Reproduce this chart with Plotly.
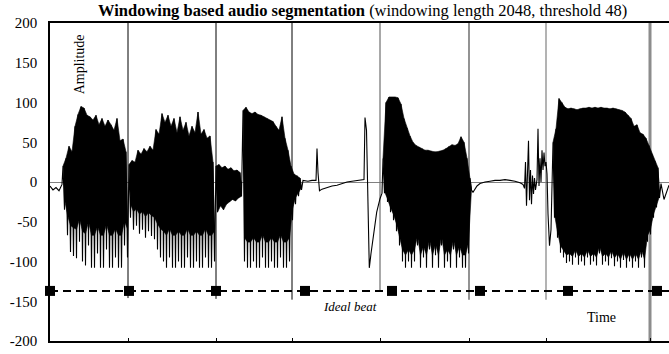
import plotly.graph_objects as go

# ---------------- data (time in arbitrary units, amplitude) ----------------
STEP = 1.5  # sample spacing inside the dense bursts (peak / trough alternate)

quiet_start_t = [0, 3, 6, 9, 12]
quiet_start_amp = [-5, -10, -7, -11, -3]

seg1_start = 13
seg1_amp = [20, -35, 30, -67, 45, -88, 38, -93, 70, -96, 85, -75, 95, -100, 93, -105,
            84, -80, 82, -108, 78, -108, 84, -90, 72, -108, 80, -108, 70, -85, 78, -108,
            72, -108, 65, -95, 80, -108, 52, -108, 54, -80, 38, -95]

seg2_start = 79
seg2_amp = [22, -45, 27, -60, 25, -55, 40, -65, 35, -60, 42, -70, 38, -62, 45, -68,
            40, -72, 66, -85, 60, -95, 86, -100, 75, -108, 84, -95, 70, -108, 80, -108,
            62, -100, 82, -108, 65, -108, 75, -95, 58, -108, 70, -108, 62, -100, 88, -108,
            60, -108, 66, -95, 55, -108, 58, -108, 25, -100]

seg_mid_start = 166
seg_mid_amp = [20, -38, 22, -30, 18, -35, 20, -28, 16, -25, 18, -22, 14, -24, 15, -20, 12, -18]

seg3_start = 193
seg3_amp = [90, -100, 94, -108, 88, -108, 86, -100, 88, -108, 85, -108, 84, -95, 82, -108,
            80, -108, 78, -100, 76, -108, 70, -108, 65, -95, 82, -108, 55, -108, 40, -100,
            20, -48, 10, -28, 8, -18, 5, -10]

quiet_mid_t = [253, 258, 262, 266, 267, 268, 269.5, 272, 277, 282, 287, 292, 297, 302, 307,
               312, 314, 315, 316.5, 317.5, 319.3, 321, 323.3, 325, 326.7, 330, 332]
quiet_mid_amp = [2, 1, 2, 2, 42, 12, -11, -9, -7, -5, -4, -2, 0, 1, 2,
                 3, 3, 81, 65, 3, -108, -90, -67, -52, -38, -21, -14]

seg5_start = 333
seg5_amp = [30, -14, 100, -25, 107, -38, 107, -48, 107, -62, 106, -80, 98, -100, 80, -108,
            68, -100, 58, -108, 50, -100, 46, -80, 44, -108, 42, -95, 40, -108, 40, -85,
            39, -108, 38, -92, 38, -108, 39, -80, 40, -108, 42, -100, 45, -108, 47, -85,
            46, -108, 48, -95, 57, -108, 50, -108, 30, -90, 5, -10]

quiet_end_t = [423, 424.5, 427, 430, 435, 440, 445, 450, 455, 460, 465, 470, 473,
               474.5, 475.5, 476.5, 477.5, 478.5, 479.5, 480.5, 481.5, 482.5, 483.5, 484.5,
               485.5, 487, 488, 489, 490, 491, 492, 493, 494, 495, 496, 497, 498, 499.5, 501]
quiet_end_amp = [-13, -10, -5, -2, 0, 1, 2, 2, 3, 2, 1, -1, -3,
                 -8, 25, -30, 10, 52, -23, 15, -28, 8, -15, 5,
                 -10, 3, 67, -5, 30, 0, 40, 15, 37, 20, 25, 10, -40, -80, -60]

seg7_start = 503
seg7_amp = [50, -45, 67, -70, 105, -89, 100, -95, 94, -102, 92, -100, 93, -104, 92, -95,
            91, -104, 92, -100, 93, -105, 93, -95, 94, -104, 93, -100, 94, -105, 93, -90,
            94, -104, 93, -100, 93, -105, 92, -96, 93, -106, 92, -100, 91, -108, 90, -98,
            88, -108, 84, -100, 80, -108, 70, -100, 72, -108, 62, -95, 60, -108, 55, -75,
            46, -66, 35, -45, 26, -32, 18, -20]

tail_t = [611, 614, 617, 619]
tail_amp = [-2, -22, -12, -4]

# segmentation boundaries found by the windowing method
boundary_t = [78, 166, 242, 330, 419, 496, 600]
boundary_bottom = [-146, -147, -148, -137, -148, -148, -200]

# ideal beat positions
beat_t = [0, 79, 166, 255, 342, 430, 518, 607]
beat_level = -137

y_ticks = [-200, -150, -100, -50, 0, 50, 100, 150, 200]
y_ticktext = ["-200", "-150", "-100", "-50", "0", "50", "100", "150", "200"]

# ---------------- assemble waveform ----------------
def burst(start, amps):
    return [start + i * STEP for i in range(len(amps))], list(amps)

quiet_parts = [(quiet_start_t, quiet_start_amp), (quiet_mid_t, quiet_mid_amp),
               (quiet_end_t, quiet_end_amp), (tail_t, tail_amp)]
burst_parts = [burst(seg1_start, seg1_amp), burst(seg2_start, seg2_amp),
               burst(seg_mid_start, seg_mid_amp), burst(seg3_start, seg3_amp),
               burst(seg5_start, seg5_amp), burst(seg7_start, seg7_amp)]
# rendering only: how deep the visually solid part of each burst reaches (fraction of trough)
core_depth = [0.62, 0.62, 1.0, 0.7, 0.85, 0.9]

wave_t, wave_amp = [], []
for tt, aa in [quiet_parts[0], burst_parts[0], burst_parts[1], burst_parts[2], burst_parts[3],
               quiet_parts[1], burst_parts[4], quiet_parts[2], burst_parts[5], quiet_parts[3]]:
    wave_t += list(tt)
    wave_amp += list(aa)

SERIF = "Liberation Serif, Times New Roman, serif"

fig = go.Figure()

# boundary lines
b_colors = ["#000000", "#000000", "#000000", "#6e6e6e", "#4a4a4a", "#808080", "#8c8c8c"]
b_widths = [1, 1, 1, 1.2, 1.2, 1.2, 3]
for bt, bb, c, w in zip(boundary_t, boundary_bottom, b_colors, b_widths):
    fig.add_trace(go.Scatter(x=[bt, bt], y=[200, bb], mode="lines",
                             line=dict(color=c, width=w), hoverinfo="skip", showlegend=False))

# dense bursts: solid core between the peak envelope and the (partial) trough envelope
for (tt, aa), depth in zip(burst_parts, core_depth):
    peaks_t, peaks = tt[0::2], aa[0::2]
    troughs_t, troughs = tt[1::2], [v * depth for v in aa[1::2]]
    poly_t = peaks_t + troughs_t[::-1]
    poly_a = peaks + troughs[::-1]
    fig.add_trace(go.Scatter(x=poly_t, y=poly_a, mode="lines", fill="toself",
                             fillcolor="black", line=dict(color="black", width=0.6),
                             hoverinfo="skip", showlegend=False))

# waveform: continuous line through all samples (gives the spiky troughs)
fig.add_trace(go.Scatter(x=wave_t, y=wave_amp, mode="lines",
                         line=dict(color="black", width=1.1), hoverinfo="skip", showlegend=False))

# ideal beat dashed line
fig.add_trace(go.Scatter(x=[0, 619], y=[beat_level, beat_level], mode="lines",
                         line=dict(color="black", width=2, dash="8px,5px"),
                         hoverinfo="skip", showlegend=False))
fig.add_trace(go.Scatter(x=beat_t, y=[beat_level] * len(beat_t), mode="markers",
                         marker=dict(symbol="square", size=10, color="black"),
                         cliponaxis=False, hoverinfo="skip", showlegend=False))

fig.add_annotation(x=29, y=148, text="Amplitude", textangle=-90, showarrow=False,
                   font=dict(family=SERIF, size=14, color="black"))
fig.add_annotation(x=300, y=-157, text="<i>Ideal beat</i>", showarrow=False,
                   font=dict(family=SERIF, size=13, color="black"))
fig.add_annotation(x=551, y=-170, text="Time", showarrow=False,
                   font=dict(family=SERIF, size=14, color="black"))

fig.update_layout(
    width=669, height=354,
    margin=dict(l=50, r=0, t=23, b=13),
    paper_bgcolor="white", plot_bgcolor="white",
    title=dict(text="<b>Windowing based audio segmentation</b> (windowing length 2048, threshold 48)",
               x=0.542, xanchor="center", y=0.972, yanchor="middle",
               font=dict(family=SERIF, size=16.5, color="black")),
    xaxis=dict(range=[0, 619], showgrid=False, zeroline=False, showline=True,
               linecolor="black", linewidth=1.5, mirror=True,
               tickvals=boundary_t, ticktext=[""] * len(boundary_t),
               ticks="inside", ticklen=3, tickcolor="black", showticklabels=False),
    yaxis=dict(range=[-200, 200], showgrid=False, zeroline=True, zerolinecolor="#808080",
               zerolinewidth=1, showline=True, linecolor="black", linewidth=1.5,
               tickvals=y_ticks, ticktext=y_ticktext, ticks="",
               tickfont=dict(family=SERIF, size=15, color="black"), ticklabelstandoff=8),
)

fig.write_html("out.html")
